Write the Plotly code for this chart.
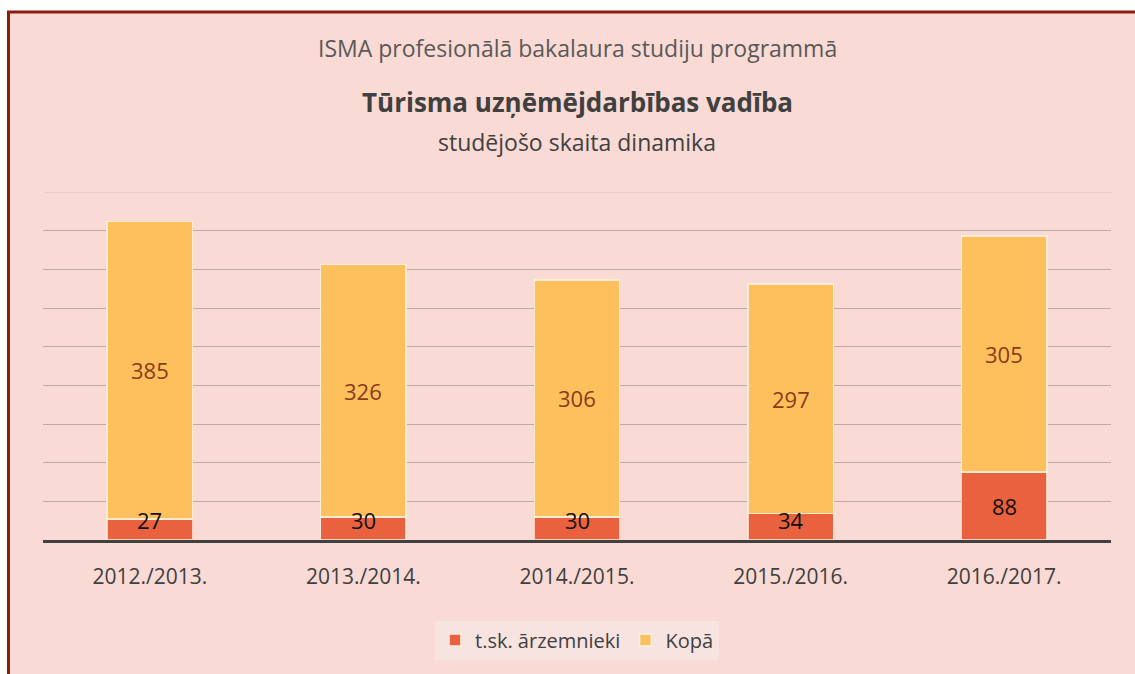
import plotly.graph_objects as go

categories = ["2012./2013.", "2013./2014.", "2014./2015.", "2015./2016.", "2016./2017."]
foreign = [27, 30, 30, 34, 88]
total = [385, 326, 306, 297, 305]
series_names = ["t.sk. ārzemnieki", "Kopā"]

FONT = "Open Sans"
W, H = 1135, 674
L, R, T, B = 43, 24, 192, 134
PW, PH = W - L - R, H - T - B
Y_MAX = 450

def px(x):
    return (x - L) / PW

def py(y):
    return (H - B - y) / PH

fig = go.Figure()
fig.add_trace(go.Bar(
    x=categories, y=foreign, name=series_names[0],
    marker=dict(color="#EA6140", line=dict(color="rgba(255,235,215,0.8)", width=1.5)),
    hoverinfo="skip",
))
fig.add_trace(go.Bar(
    x=categories, y=total, name=series_names[1],
    marker=dict(color="#FEC05C", line=dict(color="rgba(255,240,220,0.9)", width=1.5)),
    hoverinfo="skip",
))

# data labels
for c, f, t in zip(categories, foreign, total):
    fig.add_annotation(x=c, y=max(f / 2, 26), text=str(f), showarrow=False,
                       font=dict(family=FONT, size=22, color="#111111"))
    fig.add_annotation(x=c, y=f + t / 2, text=str(t), showarrow=False,
                       font=dict(family=FONT, size=22, color="#8B3A1A"))

# titles
for text, ypix, size, color in [
    ("ISMA profesionālā bakalaura studiju programmā", 48, 23, "#595959"),
    ("<b>Tūrisma uzņēmējdarbības vadība</b>", 102, 26, "#404040"),
    ("studējošo skaita dinamika", 142, 23, "#404040"),
]:
    fig.add_annotation(xref="paper", yref="paper", x=px(577), y=py(ypix),
                       xanchor="center", yanchor="middle", text=text, showarrow=False,
                       font=dict(family=FONT, size=size, color=color))

# outer frame
fig.add_shape(type="rect", xref="paper", yref="paper", layer="below",
              x0=px(8.5), x1=px(1150), y0=py(690), y1=py(12),
              fillcolor="#F9DAD4", line=dict(color="#8B1E0A", width=3))
# top gridline (at axis edge)
fig.add_shape(type="line", xref="paper", yref="y", layer="below",
              x0=0, x1=1, y0=Y_MAX, y1=Y_MAX,
              line=dict(color="#E2C4BE", width=1))

fig.update_layout(
    width=W, height=H,
    margin=dict(l=L, r=R, t=T, b=B, pad=0),
    paper_bgcolor="white",
    plot_bgcolor="rgba(0,0,0,0)",
    barmode="stack",
    bargap=0.6,
    showlegend=True,
    legend=dict(orientation="h", x=0.5, xanchor="center", y=py(640), yanchor="middle",
                bgcolor="#F7E3E0", font=dict(family=FONT, size=20, color="#404040"),
                itemsizing="constant", traceorder="normal"),
    font=dict(family=FONT),
    xaxis=dict(showgrid=False, showline=True, linecolor="#404040", linewidth=3,
               ticks="outside", ticklen=16, tickcolor="rgba(0,0,0,0)",
               tickfont=dict(family=FONT, size=21, color="#404040"), fixedrange=True),
    yaxis=dict(range=[0, Y_MAX], dtick=50, showticklabels=False, showgrid=True,
               gridcolor="#BFAAA6", gridwidth=1, zeroline=False, fixedrange=True),
)

fig.write_html("out.html", config={"displayModeBar": False},
               post_script="document.body.style.margin='0';")
